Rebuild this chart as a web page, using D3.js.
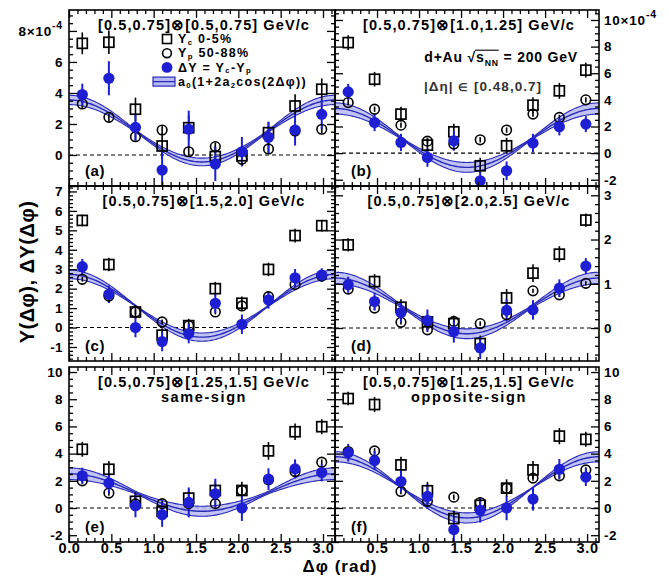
<!DOCTYPE html>
<html>
<head>
<meta charset="utf-8">
<script src="https://cdn.jsdelivr.net/npm/d3@7"></script>
<style>
  html, body { margin: 0; padding: 0; background: #fff; }
  svg text { font-family: "Liberation Sans", Arial, Helvetica, sans-serif; font-weight: bold; }
</style>
</head>
<body>
<svg id="chart" width="669" height="576"></svg>
<script>
// Δφ bin centres (rad)
const binCenters = [0.157, 0.471, 0.785, 1.100, 1.414, 1.728, 2.042, 2.356, 2.670, 2.985];

// Panel (a): [0.5,0.75]⊗[0.5,0.75] GeV/c
const ycA    = [7.20, 7.27, 2.95, 0.58, 1.76, -0.10, -0.05, 1.44, 3.16, 4.24];
const ycErrA = [0.70, 0.75, 0.75, 0.80, 0.80, 0.65, 0.65, 0.70, 0.75, 0.70];
const ypA    = [3.29, 2.43, 1.18, 1.61, 0.21, 0.54, -0.28, 0.39, 1.55, 1.66];
const ypErrA = [0.25, 0.25, 0.25, 0.25, 0.25, 0.25, 0.25, 0.25, 0.25, 0.25];
const dyA    = [3.90, 4.95, 1.78, -0.97, 1.66, -0.58, 0.21, 1.14, 1.61, 2.62];
const dyErrA = [0.70, 1.10, 0.90, 1.30, 1.20, 1.10, 0.95, 1.00, 1.00, 0.95];

// Panel (b): [0.5,0.75]⊗[1.0,1.25] GeV/c
const ycB    = [8.30, 5.55, 2.93, 0.60, 1.60, -0.95, 0.55, 3.60, 4.68, 6.23];
const ycErrB = [0.55, 0.55, 0.55, 0.55, 0.60, 0.60, 0.60, 0.60, 0.60, 0.55];
const ypB    = [3.80, 3.30, 2.10, 0.90, 0.68, 1.00, 1.73, 2.93, 2.68, 4.00];
const ypErrB = [0.20, 0.20, 0.20, 0.20, 0.20, 0.20, 0.20, 0.20, 0.20, 0.20];
const dyB    = [4.60, 2.30, 0.80, -0.33, 0.93, -2.08, -1.33, 0.75, 1.98, 2.18];
const dyErrB = [0.60, 0.65, 0.65, 0.70, 0.75, 0.70, 0.70, 0.70, 0.65, 0.60];

// Panel (c): [0.5,0.75]⊗[1.5,2.0] GeV/c
const ycC    = [5.51, 3.24, 0.80, -0.39, 0.10, 2.00, 1.25, 2.99, 4.73, 5.24];
const ycErrC = [0.30, 0.35, 0.35, 0.35, 0.35, 0.35, 0.35, 0.35, 0.35, 0.30];
const ypC    = [2.48, 1.62, 0.80, 0.29, 0.09, 0.80, 1.11, 1.59, 2.22, 2.65];
const ypErrC = [0.12, 0.12, 0.12, 0.12, 0.12, 0.12, 0.12, 0.12, 0.12, 0.12];
const dyC    = [3.13, 1.71, 0.00, -0.72, -0.31, 1.25, 0.17, 1.42, 2.56, 2.70];
const dyErrC = [0.40, 0.45, 0.50, 0.50, 0.50, 0.50, 0.50, 0.45, 0.45, 0.35];

// Panel (d): [0.5,0.75]⊗[2.0,2.5] GeV/c
const ycD    = [1.88, 1.05, 0.47, 0.14, 0.10, -0.35, 0.68, 1.24, 1.67, 2.44];
const ycErrD = [0.15, 0.17, 0.18, 0.18, 0.18, 0.18, 0.20, 0.20, 0.18, 0.15];
const ypD    = [0.88, 0.45, 0.13, -0.04, 0.15, 0.10, 0.30, 0.84, 0.75, 1.01];
const ypErrD = [0.05, 0.05, 0.05, 0.05, 0.05, 0.05, 0.05, 0.05, 0.05, 0.05];
const dyD    = [0.98, 0.60, 0.35, 0.17, -0.08, -0.45, 0.40, 0.41, 0.90, 1.40];
const dyErrD = [0.18, 0.20, 0.22, 0.25, 0.25, 0.25, 0.25, 0.22, 0.20, 0.18];

// Panel (e): [0.5,0.75]⊗[1.25,1.5] GeV/c, same-sign
const ycE    = [4.32, 2.85, 0.49, -0.24, 0.73, 1.29, 1.29, 4.20, 5.61, 5.98];
const ycErrE = [0.55, 0.60, 0.65, 0.65, 0.65, 0.65, 0.65, 0.65, 0.60, 0.55];
const ypE    = [2.00, 1.10, 0.30, 0.32, 0.32, 0.32, 1.29, 2.08, 2.68, 3.37];
const ypErrE = [0.20, 0.20, 0.20, 0.20, 0.20, 0.20, 0.20, 0.20, 0.20, 0.20];
const dyE    = [2.37, 1.83, 0.17, -0.49, 0.41, 1.05, 0.00, 2.12, 2.88, 2.61];
const dyErrE = [0.60, 0.75, 0.85, 0.90, 1.10, 1.10, 0.95, 0.80, 0.70, 0.65];

// Panel (f): [0.5,0.75]⊗[1.25,1.5] GeV/c, opposite-sign
const ycF    = [8.05, 7.61, 3.17, 1.27, -0.78, 0.20, 1.46, 2.80, 5.29, 5.05];
const ycErrF = [0.50, 0.55, 0.60, 0.65, 0.60, 0.60, 0.65, 0.65, 0.60, 0.55];
const ypF    = [4.15, 4.20, 1.22, 0.49, 0.80, 0.40, 1.46, 2.20, 2.37, 2.80];
const ypErrF = [0.20, 0.20, 0.20, 0.20, 0.20, 0.20, 0.20, 0.20, 0.20, 0.20];
const dyF    = [4.07, 3.49, 1.95, 0.85, -1.59, -0.17, 0.00, 0.66, 2.85, 2.27];
const dyErrF = [0.65, 0.70, 0.80, 0.90, 0.90, 0.90, 0.90, 0.85, 0.75, 0.65];

// Fit a0(1+2a2 cos(2Δφ)) to ΔY, per panel a..f, with uncertainties
const fitA0    = [1.55, 1.14, 1.12, 0.50, 1.14, 1.52];
const fitA2    = [0.645, 0.97, 0.72, 0.63, 0.605, 0.74];
const fitA0Err = [0.076, 0.071, 0.027, 0.031, 0.10, 0.02];
const fitA2Err = [0.079, 0.16, 0.094, 0.11, 0.162, 0.122];

// Panel texts
const panelLetters = ["(a)", "(b)", "(c)", "(d)", "(e)", "(f)"];
const panelTitles = [
  "[0.5,0.75]⊗[0.5,0.75] GeV/c",
  "[0.5,0.75]⊗[1.0,1.25] GeV/c",
  "[0.5,0.75]⊗[1.5,2.0] GeV/c",
  "[0.5,0.75]⊗[2.0,2.5] GeV/c",
  "[0.5,0.75]⊗[1.25,1.5] GeV/c",
  "[0.5,0.75]⊗[1.25,1.5] GeV/c"
];
const panelSubtitles = ["", "", "", "", "same-sign", "opposite-sign"];

// Axis ranges and tick settings per panel
const yDomains   = [[-2.0, 9.35], [-2.47, 10.75], [-1.72, 7.28], [-0.745, 3.21], [-2.5, 10.37], [-2.5, 10.37]];
const yMajorStep = [2, 2, 1, 1, 2, 2];
const yMinorStep = [0.5, 0.5, 0.2, 0.2, 0.5, 0.5];
const yTickLabels = [
  [0, 2, 4, 6, 8],
  [-2, 0, 2, 4, 6, 8, 10],
  [-1, 0, 1, 2, 3, 4, 5, 6, 7],
  [0, 1, 2, 3],
  [-2, 0, 2, 4, 6, 8, 10],
  [-2, 0, 2, 4, 6, 8, 10]
];
const yExpTick = [8, 10, null, null, null, null];   // label carrying ×10^-4
const xMajorTicks = [0, 0.5, 1.0, 1.5, 2.0, 2.5, 3.0];
const xMinorTicks = [0.1,0.2,0.3,0.4,0.6,0.7,0.8,0.9,1.1,1.2,1.3,1.4,1.6,1.7,1.8,1.9,2.1,2.2,2.3,2.4,2.6,2.7,2.8,2.9,3.1];

// Legend entries (panel a)
const legendLabels = [
  [{t: "Y"}, {t: "c", sub: true}, {t: " 0-5%"}],
  [{t: "Y"}, {t: "p", sub: true}, {t: " 50-88%"}],
  [{t: "ΔY = Y"}, {t: "c", sub: true}, {t: "-Y"}, {t: "p", sub: true}],
  [{t: "a"}, {t: "0", sub: true}, {t: "(1+2a"}, {t: "2", sub: true}, {t: "cos(2Δφ))"}]
];

// ---------------------------------------------------------------------------
const BLUE = "#1e1ed2";
const BAND_FILL = "#b6baf2";
const BAND_LINE = "#2a2ab6";

const colX = [[69, 335], [335, 599]];
const rowY = [[10, 186], [186, 361], [367, 542]];

const panels = [
  {yc: ycA, ycE: ycErrA, yp: ypA, ypE: ypErrA, dy: dyA, dyE: dyErrA},
  {yc: ycB, ycE: ycErrB, yp: ypB, ypE: ypErrB, dy: dyB, dyE: dyErrB},
  {yc: ycC, ycE: ycErrC, yp: ypC, ypE: ypErrC, dy: dyC, dyE: dyErrC},
  {yc: ycD, ycE: ycErrD, yp: ypD, ypE: ypErrD, dy: dyD, dyE: dyErrD},
  {yc: ycE, ycE: ycErrE, yp: ypE, ypE: ypErrE, dy: dyE, dyE: dyErrE},
  {yc: ycF, ycE: ycErrF, yp: ypF, ypE: ypErrF, dy: dyF, dyE: dyErrF}
];

const svg = d3.select("#chart");

// text with sub/superscripts built from tspans
function rich(textSel, parts, size, subShift) {
  let shift = 0;
  const down = subShift === undefined ? 0.25 : subShift;
  parts.forEach(p => {
    const target = p.sub ? size * down : p.sup ? -size * 0.45 : 0;
    const ts = textSel.append("tspan").attr("dy", target - shift).text(p.t);
    if (p.sub || p.sup) ts.attr("font-size", size * 0.62);
    if (p.small) ts.attr("font-size", size * p.small);
    shift = target;
  });
  return textSel;
}

const phiSamples = d3.range(0, 201).map(i => i / 200 * Math.PI);

panels.forEach((p, i) => {
  const col = i % 2, row = Math.floor(i / 2);
  const [x0, x1] = colX[col];
  const [y0, y1] = rowY[row];

  const x = d3.scaleLinear().domain([0, Math.PI]).range([x0, x1]);
  const y = d3.scaleLinear().domain(yDomains[i]).range([y1, y0]);

  const g = svg.append("g").attr("class", "panel-" + i);
  const clipId = "clip" + i;
  svg.append("defs").append("clipPath").attr("id", clipId)
    .append("rect").attr("x", x0).attr("y", y0).attr("width", x1 - x0).attr("height", y1 - y0);
  const plot = g.append("g").attr("clip-path", `url(#${clipId})`);

  // zero line
  plot.append("line")
    .attr("x1", x0).attr("x2", x1).attr("y1", y(0)).attr("y2", y(0))
    .attr("stroke", "#000").attr("stroke-width", 1.1).attr("stroke-dasharray", "4,3");

  // fit band
  const a0 = fitA0[i], a2 = fitA2[i], da0 = fitA0Err[i], da2 = fitA2Err[i];
  const f = phi => a0 * (1 + 2 * a2 * Math.cos(2 * phi));
  const s = phi => {
    const c = Math.cos(2 * phi);
    return Math.sqrt(Math.pow(da0 * (1 + 2 * a2 * c), 2) + Math.pow(2 * a0 * da2 * c, 2));
  };
  plot.append("path").datum(phiSamples)
    .attr("d", d3.area().x(d => x(d)).y0(d => y(f(d) - s(d))).y1(d => y(f(d) + s(d))))
    .attr("fill", BAND_FILL).attr("opacity", 0.85);
  [-1, 0, 1].forEach(k => {
    plot.append("path").datum(phiSamples)
      .attr("d", d3.line().x(d => x(d)).y(d => y(f(d) + k * s(d))))
      .attr("fill", "none").attr("stroke", BAND_LINE).attr("stroke-width", k === 0 ? 1.4 : 1.1);
  });

  // error bars
  const bars = (vals, errs, color, w) => {
    plot.append("g").selectAll("line").data(vals).join("line")
      .attr("x1", (d, j) => x(binCenters[j])).attr("x2", (d, j) => x(binCenters[j]))
      .attr("y1", (d, j) => y(d - errs[j])).attr("y2", (d, j) => y(d + errs[j]))
      .attr("stroke", color).attr("stroke-width", w);
  };
  bars(p.yc, p.ycE, "#000", 1.6);
  bars(p.yp, p.ypE, "#000", 1.6);
  bars(p.dy, p.dyE, BLUE, 2);

  // Yc open squares
  plot.append("g").selectAll("rect").data(p.yc).join("rect")
    .attr("x", (d, j) => x(binCenters[j]) - 5).attr("y", d => y(d) - 5)
    .attr("width", 10).attr("height", 10)
    .attr("fill", "none").attr("stroke", "#000").attr("stroke-width", 1.7);
  // Yp open circles
  plot.append("g").selectAll("circle").data(p.yp).join("circle")
    .attr("cx", (d, j) => x(binCenters[j])).attr("cy", d => y(d)).attr("r", 4.8)
    .attr("fill", "none").attr("stroke", "#000").attr("stroke-width", 1.6);
  // ΔY filled circles
  plot.append("g").selectAll("circle").data(p.dy).join("circle")
    .attr("cx", (d, j) => x(binCenters[j])).attr("cy", d => y(d)).attr("r", 5.6)
    .attr("fill", BLUE);

  // frame
  g.append("rect").attr("x", x0).attr("y", y0).attr("width", x1 - x0).attr("height", y1 - y0)
    .attr("fill", "none").attr("stroke", "#000").attr("stroke-width", 1.6);

  const styleAxis = ax => {
    ax.select(".domain").remove();
    ax.selectAll(".tick line").attr("stroke", "#000").attr("stroke-width", 1.3);
    ax.attr("font-family", null).attr("font-size", null);
  };

  // x ticks, bottom and top, inward
  const showXLabels = row === 2;
  const bottomMajor = d3.axisBottom(x).tickValues(xMajorTicks).tickSize(-8).tickPadding(1)
    .tickFormat(d => showXLabels && !(col === 1 && d === 0) ? d3.format(".1f")(d) : "");
  g.append("g").attr("transform", `translate(0,${y1})`).call(bottomMajor).call(styleAxis)
    .selectAll("text").attr("font-size", 14.5).attr("letter-spacing", 0.6).attr("fill", "#000");
  g.append("g").attr("transform", `translate(0,${y1})`)
    .call(d3.axisBottom(x).tickValues(xMinorTicks).tickSize(-4).tickFormat(""))
    .call(styleAxis);
  g.append("g").attr("transform", `translate(0,${y0})`)
    .call(d3.axisTop(x).tickValues(xMajorTicks).tickSize(-8).tickFormat(""))
    .call(styleAxis);
  g.append("g").attr("transform", `translate(0,${y0})`)
    .call(d3.axisTop(x).tickValues(xMinorTicks).tickSize(-4).tickFormat(""))
    .call(styleAxis);

  // y ticks, both sides, inward
  const [ylo, yhi] = yDomains[i];
  const yMaj = d3.range(Math.ceil(ylo / yMajorStep[i]) * yMajorStep[i], yhi + 1e-9, yMajorStep[i]);
  const yMin = d3.range(Math.ceil(ylo / yMinorStep[i]) * yMinorStep[i], yhi + 1e-9, yMinorStep[i])
    .filter(v => yMaj.every(m => Math.abs(m - v) > 1e-6));
  const labelled = yTickLabels[i];
  const fmtY = d => labelled.some(v => Math.abs(v - d) < 1e-6) ? String(Math.round(d)) : "";

  const leftMajor = d3.axisLeft(y).tickValues(yMaj).tickSize(-8).tickPadding(6)
    .tickFormat(col === 0 ? fmtY : () => "");
  const rightMajor = d3.axisRight(y).tickValues(yMaj).tickSize(-8).tickPadding(5)
    .tickFormat(col === 1 ? fmtY : () => "");
  const lAx = g.append("g").attr("transform", `translate(${x0},0)`).call(leftMajor).call(styleAxis);
  const rAx = g.append("g").attr("transform", `translate(${x1},0)`).call(rightMajor).call(styleAxis);
  g.append("g").attr("transform", `translate(${x0},0)`)
    .call(d3.axisLeft(y).tickValues(yMin).tickSize(-4).tickFormat("")).call(styleAxis);
  g.append("g").attr("transform", `translate(${x1},0)`)
    .call(d3.axisRight(y).tickValues(yMin).tickSize(-4).tickFormat("")).call(styleAxis);

  [lAx, rAx].forEach(ax => {
    ax.selectAll("text").attr("font-size", 13.5).attr("letter-spacing", 0.4).attr("fill", "#000");
    if (yExpTick[i] !== null) {
      ax.selectAll(".tick text").filter(d => Math.abs(d - yExpTick[i]) < 1e-6)
        .each(function(d) {
          const t = d3.select(this);
          if (!t.text()) return;
          t.text(null).attr("letter-spacing", 0.8);
          t.append("tspan").text(Math.round(d) + "×10");
          t.append("tspan").attr("dy", -7).attr("font-size", 10.5).text("-4");
        });
    }
  });

  // panel header
  const cx = (x0 + x1) / 2 + 2;
  g.append("text").attr("x", cx).attr("y", y0 + 20).attr("text-anchor", "middle")
    .attr("font-size", 14.5).attr("letter-spacing", 1.1).text(panelTitles[i]);
  if (panelSubtitles[i]) {
    g.append("text").attr("x", cx).attr("y", y0 + 35).attr("text-anchor", "middle")
      .attr("font-size", 14.5).attr("letter-spacing", 1.6).text(panelSubtitles[i]);
  }
  // panel letter
  g.append("text").attr("x", x0 + 16).attr("y", y1 - 10).attr("font-size", 15)
    .attr("letter-spacing", 0.6).text(panelLetters[i]);

  // legend in panel (a)
  if (i === 0) {
    const lx = 167, ly0 = 39, dly = 14.2, tx = 178;
    legendLabels.forEach((parts, k) => {
      const ly = ly0 + k * dly;
      if (k === 0) {
        g.append("rect").attr("x", lx - 4.5).attr("y", ly - 4.5).attr("width", 9).attr("height", 9)
          .attr("fill", "none").attr("stroke", "#000").attr("stroke-width", 1.6);
      } else if (k === 1) {
        g.append("circle").attr("cx", lx).attr("cy", ly).attr("r", 4.4)
          .attr("fill", "none").attr("stroke", "#000").attr("stroke-width", 1.6);
      } else if (k === 2) {
        g.append("circle").attr("cx", lx).attr("cy", ly).attr("r", 5.4).attr("fill", BLUE);
      } else {
        g.append("rect").attr("x", 153).attr("y", ly - 4.5).attr("width", 22).attr("height", 9)
          .attr("fill", BAND_FILL).attr("stroke", BAND_LINE).attr("stroke-width", 1.2);
        g.append("line").attr("x1", 153).attr("x2", 175).attr("y1", ly).attr("y2", ly)
          .attr("stroke", BAND_LINE).attr("stroke-width", 1.3);
      }
      rich(g.append("text").attr("x", tx).attr("y", ly + 4.2).attr("font-size", 12.5)
        .attr("letter-spacing", 1.3), parts, 12.5, 0.15);
    });
  }

  // collision system and η gap in panel (b)
  if (i === 1) {
    const t = g.append("text").attr("x", 578).attr("y", y0 + 52).attr("text-anchor", "end")
      .attr("font-size", 14).attr("letter-spacing", 0.8);
    rich(t, [{t: "d+Au "}, {t: "√"}, {t: "s"}, {t: "NN", sub: true}, {t: " = 200 GeV"}], 14);
    // overline of the square root
    const node = t.node();
    const rootIdx = "d+Au ".length;
    const e0 = node.getExtentOfChar(rootIdx);
    const e1 = node.getExtentOfChar(rootIdx + 3);
    g.append("line").attr("x1", e0.x + e0.width - 1.2).attr("x2", e1.x + e1.width)
      .attr("y1", e0.y + 1.2).attr("y2", e0.y + 1.2).attr("stroke", "#000").attr("stroke-width", 1.1);
    const t2 = g.append("text").attr("x", 483).attr("y", y0 + 81).attr("text-anchor", "middle")
      .attr("font-size", 13.5).attr("font-weight", "normal").attr("fill", "#333")
      .attr("letter-spacing", 1);
    rich(t2, [{t: "|Δη| "}, {t: "∈", small: 0.8}, {t: " [0.48,0.7]"}], 13.5);
  }
});

// axis titles
svg.append("text").attr("transform", "translate(34,272) rotate(-90)").attr("text-anchor", "middle")
  .attr("font-size", 20).attr("letter-spacing", 0.5).text("Y(Δφ), ΔY(Δφ)");
svg.append("text").attr("x", 340).attr("y", 572).attr("text-anchor", "middle")
  .attr("font-size", 17).attr("letter-spacing", 1).text("Δφ (rad)");
</script>
</body>
</html>
